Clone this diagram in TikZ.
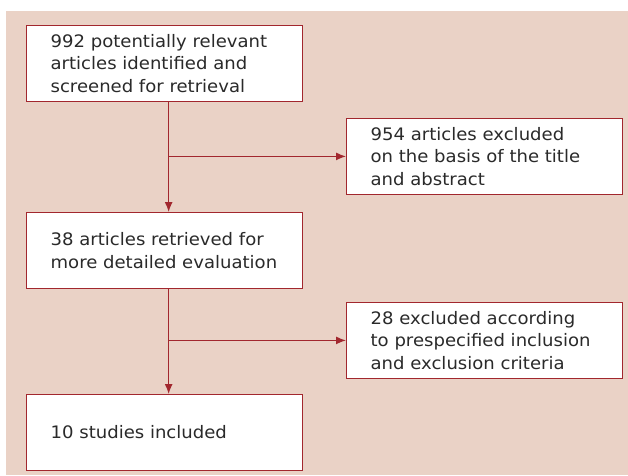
\documentclass[tikz,border=0pt]{standalone}
\usepackage{fontspec}
\setmainfont{DejaVu Sans}[FakeStretch=1.05]
\usetikzlibrary{arrows.meta,positioning,calc}
\definecolor{boxred}{HTML}{A2272E}
\definecolor{panel}{HTML}{EAD2C6}
\definecolor{ink}{HTML}{2A2A2A}

\begin{document}
\begin{tikzpicture}[x=1pt, y=-1pt, >={Latex[length=10pt,width=8pt]},
  stage/.style={draw=boxred, line width=1.3pt, fill=white, anchor=north west,
    minimum width=276pt, minimum height=\bh, text width=228pt, inner xsep=24pt,
    align=left, text=ink, font=\fontsize{17.2}{22.5}\selectfont},
  flow/.style={draw=boxred, line width=1.3pt}]
  % sizes
  \def\bh{75.5pt}
  \def\off{4pt} % trunk sits a bit right of the box middle

  % page and tinted panel
  \useasboundingbox (0,0) rectangle (628,475);
  \fill[panel] (6,11) rectangle (628,475);

  % main column
  \node[stage] (found)     at (26,25)  {992 potentially relevant\\articles identified and\\screened for retrieval};
  \node[stage] (retrieved) at (26,212) {38 articles retrieved for\\more detailed evaluation};
  \node[stage] (included)  at (26,394) {10 studies included};

  % exclusions
  \node[stage] (titleout)    at (346,118) {954 articles excluded\\on the basis of the title\\and abstract};
  \node[stage] (criteriaout) at (346,302) {28 excluded according\\to prespecified inclusion\\and exclusion criteria};

  % branch points on the trunk
  \coordinate (split1) at ([xshift=\off]found.south |- titleout.west);
  \coordinate (split2) at ([xshift=\off]retrieved.south |- criteriaout.west);

  \draw[flow,->] ([xshift=\off]found.south) -- ([xshift=\off]retrieved.north);
  \draw[flow,->] (split1) -- (titleout.west);
  \draw[flow,->] ([xshift=\off]retrieved.south) -- ([xshift=\off]included.north);
  \draw[flow,->] (split2) -- (criteriaout.west);
\end{tikzpicture}
\end{document}
